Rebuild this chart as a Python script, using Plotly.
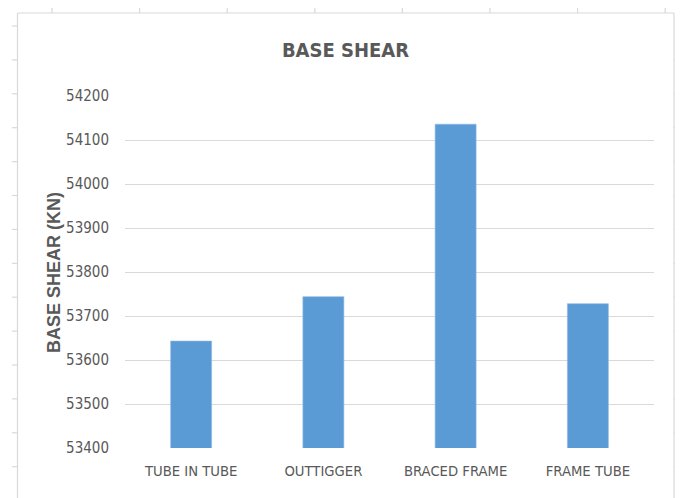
import plotly.graph_objects as go

categories = ["TUBE IN TUBE", "OUTTIGGER", "BRACED FRAME", "FRAME TUBE"]
base_shear = [53643, 53744, 54136, 53728]
y_ticks = [53400, 53500, 53600, 53700, 53800, 53900, 54000, 54100, 54200]

# page body has an 8px margin; work in window pixels and subtract it
OFF = 8
W, H = 683 - OFF, 498 - OFF
L, R, T, B = 125 - OFF, 654 - OFF, 96 - OFF, 448 - OFF  # plot area

def px(x):
    return (x - OFF - L) / (R - L)

def py(y):
    return (B - (y - OFF)) / (B - T)

TEXT = "#595959"
COND = "DejaVu Sans Condensed, Liberation Sans Narrow, sans-serif"

fig = go.Figure(go.Bar(
    x=categories, y=base_shear,
    marker=dict(color="#5B9BD5", line=dict(color="#8DBBE5", width=0.6)),
    width=0.31,
))

shapes = []
edge = "#d9d9d9"
shapes.append(dict(type="line", xref="paper", yref="paper", x0=px(17.5), x1=px(674), y0=py(13), y1=py(13), line=dict(color=edge, width=1.2)))
shapes.append(dict(type="line", xref="paper", yref="paper", x0=px(17.5), x1=px(17.5), y0=py(13), y1=py(500), line=dict(color=edge, width=1.2)))
shapes.append(dict(type="line", xref="paper", yref="paper", x0=px(674), x1=px(674), y0=py(13), y1=py(500), line=dict(color=edge, width=1.2)))
for k in range(8):
    xx = 52 + 87.6 * k
    shapes.append(dict(type="line", xref="paper", yref="paper", x0=px(xx), x1=px(xx), y0=py(4), y1=py(13), line=dict(color=edge, width=1.2)))
for k in range(15):
    yy = 26 + 33.9 * k
    shapes.append(dict(type="line", xref="paper", yref="paper", x0=px(12), x1=px(17.5), y0=py(yy), y1=py(yy), line=dict(color=edge, width=1.2)))
    shapes.append(dict(type="line", xref="paper", yref="paper", x0=px(674), x1=px(684), y0=py(yy), y1=py(yy), line=dict(color=edge, width=1.2)))

fig.update_layout(
    width=W, height=H,
    margin=dict(l=L, r=W - R, t=T, b=H - B),
    paper_bgcolor="white", plot_bgcolor="white",
    showlegend=False,
    title=dict(text="<b>BASE SHEAR</b>", x=(345.5 - OFF) / W, xanchor="center", xref="container",
               y=1 - (50 - OFF) / H, yanchor="middle", yref="container",
               font=dict(family=COND, size=20, color=TEXT)),
    xaxis=dict(showgrid=False, showline=False, ticks="", zeroline=False,
               tickfont=dict(family=COND, size=14.7, color=TEXT), ticklabelstandoff=12),
    yaxis=dict(range=[53400, 54200], tickvals=y_ticks, ticktext=[str(v) for v in y_ticks],
               showgrid=True, gridcolor="#d9d9d9", gridwidth=1.2, zeroline=False, showline=False,
               ticks="", tickfont=dict(family=COND, size=15, color=TEXT), ticklabelstandoff=15),
    shapes=shapes,
    annotations=[dict(text="<b>BASE SHEAR (KN)</b>", textangle=-90, xref="paper", yref="paper",
                      x=px(54), y=py(273), xanchor="center", yanchor="middle", showarrow=False,
                      font=dict(family="Liberation Sans, Arial, sans-serif", size=18, color=TEXT))],
)

fig.write_html("out.html")
